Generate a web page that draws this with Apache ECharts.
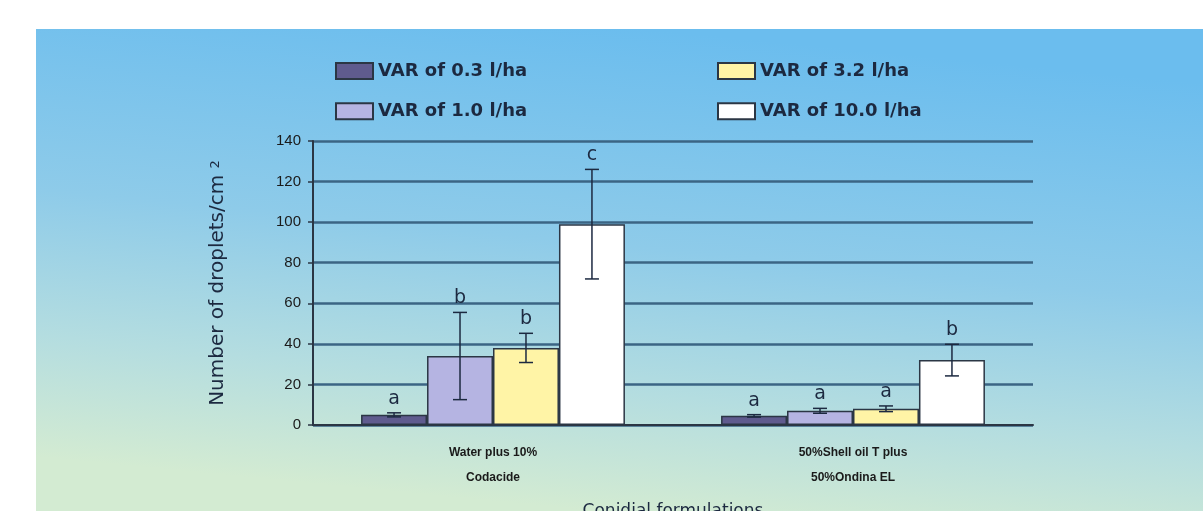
<style>
    html, body {
        margin: 0;
        padding: 0;
        overflow: hidden;
        background: #ffffff;
    }
</style>
<div id="chart" style="width:1203px; height:511px;"></div>
<script src="https://cdn.jsdelivr.net/npm/echarts@6/dist/echarts.min.js"></script>
<script>
    var categories = ['Water plus 10%\nCodacide', '50%Shell oil T plus\n50%Ondina EL'];
    var seriesNames = ['VAR of 0.3 l/ha', 'VAR of 1.0 l/ha', 'VAR of 3.2 l/ha', 'VAR of 10.0 l/ha'];
    var var03 = [5, 4.5];
    var var10 = [34, 7];
    var var32 = [38, 8];
    var var100 = [99, 32];
    var sd03 = [1, 0.6];
    var sd10 = [21.5, 1.2];
    var sd32 = [7.2, 1.4];
    var sd100 = [27, 7.8];
    var letters03 = ['a', 'a'];
    var letters10 = ['b', 'a'];
    var letters32 = ['b', 'a'];
    var letters100 = ['c', 'b'];
    var yTicks = [0, 20, 40, 60, 80, 100, 120, 140];

    var means = [var03, var10, var32, var100];
    var sds = [sd03, sd10, sd32, sd100];
    var letters = [letters03, letters10, letters32, letters100];
    var colors = ['#5f5b8e', '#b5b4e2', '#fff4a6', '#ffffff'];
    var gapFrac = 0.267;
    var ink = '#1c2940';

    var chart = echarts.init(document.getElementById('chart'), null, {renderer: 'canvas'});

    function errRender(k) {
        return function (params, api) {
            var cat = api.value(0), m = api.value(1), sd = api.value(2);
            var band = api.size([1, 0])[0];
            var bw = band * (1 - gapFrac) / 4;
            var x = api.coord([cat, 0])[0] + (k - 1.5) * bw;
            var yHi = api.coord([cat, m + sd])[1];
            var yLo = api.coord([cat, m - sd])[1];
            var st = {stroke: ink, lineWidth: 1.5};
            return {
                type: 'group',
                children: [
                    {type: 'line', shape: {x1: x, y1: yHi, x2: x, y2: yLo}, style: st},
                    {type: 'line', shape: {x1: x - 7, y1: yHi, x2: x + 7, y2: yHi}, style: st},
                    {type: 'line', shape: {x1: x - 7, y1: yLo, x2: x + 7, y2: yLo}, style: st},
                    {type: 'text', x: x, y: yHi - 14, style: {
                        text: letters[k][params.dataIndex], fill: ink, fontSize: 19,
                        fontFamily: 'DejaVu Sans', align: 'center', verticalAlign: 'middle'
                    }}
                ]
            };
        };
    }

    var series = [];
    for (var k = 0; k < 4; k++) {
        series.push({
            name: seriesNames[k],
            type: 'bar',
            data: means[k],
            barGap: '0%',
            barCategoryGap: (gapFrac * 100) + '%',
            itemStyle: {color: colors[k], borderColor: '#2b3644', borderWidth: 1.5},
            emphasis: {disabled: true}
        });
    }
    for (var k = 0; k < 4; k++) {
        var d = [];
        for (var i = 0; i < categories.length; i++) d.push([i, means[k][i], sds[k][i]]);
        series.push({type: 'custom', renderItem: errRender(k), data: d, z: 5, silent: true});
    }

    var legendText = {fontSize: 18, fontWeight: 'bold', color: ink, fontFamily: 'DejaVu Sans', lineHeight: 18};

    chart.setOption({
        animation: false,
        graphic: [{
            type: 'rect', z: -10, silent: true,
            shape: {x: 36, y: 29, width: 1167, height: 482},
            style: {fill: new echarts.graphic.LinearGradient(0.52, 0, 0.48, 1, [
                {offset: 0, color: '#6bbdee'},
                {offset: 0.45, color: '#8ecbe9'},
                {offset: 0.75, color: '#b4dde0'},
                {offset: 1, color: '#d3ebd2'}
            ])}
        }],
        legend: [{
            left: 335, top: 52, orient: 'vertical', itemGap: 2, padding: 0,
            itemWidth: 37, itemHeight: 16, icon: 'rect',
            data: [seriesNames[0], seriesNames[1]], textStyle: legendText
        }, {
            left: 717, top: 52, orient: 'vertical', itemGap: 2, padding: 0,
            itemWidth: 37, itemHeight: 16, icon: 'rect',
            data: [seriesNames[2], seriesNames[3]], textStyle: legendText
        }],
        grid: {left: 313, right: 170, top: 141, bottom: 86, outerBoundsMode: 'none'},
        xAxis: {
            type: 'category',
            data: categories,
            name: 'Conidial formulations',
            nameLocation: 'middle',
            nameGap: 70,
            nameTextStyle: {fontSize: 17, color: ink, fontFamily: 'DejaVu Sans'},
            axisLine: {lineStyle: {color: '#2b3644', width: 2}},
            axisTick: {lineStyle: {color: '#2b3644', width: 1.5}, length: 5},
            axisLabel: {
                fontSize: 12, fontWeight: 'bold', color: '#1a1a1a', lineHeight: 25,
                fontFamily: 'Liberation Sans', margin: 15
            }
        },
        yAxis: {
            type: 'value',
            min: yTicks[0], max: yTicks[yTicks.length - 1], interval: 20,
            name: '{a|Number of droplets/cm }{s|2}',
            nameLocation: 'middle',
            nameGap: 80,
            nameRotate: 90,
            nameTextStyle: {
                rich: {
                    a: {fontSize: 20, color: ink, fontFamily: 'DejaVu Sans', lineHeight: 30},
                    s: {fontSize: 13, color: ink, fontFamily: 'DejaVu Sans', verticalAlign: 'top', lineHeight: 13}
                }
            },
            axisLine: {show: true, lineStyle: {color: '#2b3644', width: 2}},
            axisTick: {show: true, length: 5, lineStyle: {color: '#2b3644', width: 1.5}},
            axisLabel: {fontSize: 15, color: '#1a1a1a', fontFamily: 'Liberation Sans', margin: 12},
            splitLine: {lineStyle: {color: '#3b6584', width: 2.5}}
        },
        series: series
    });
</script>
